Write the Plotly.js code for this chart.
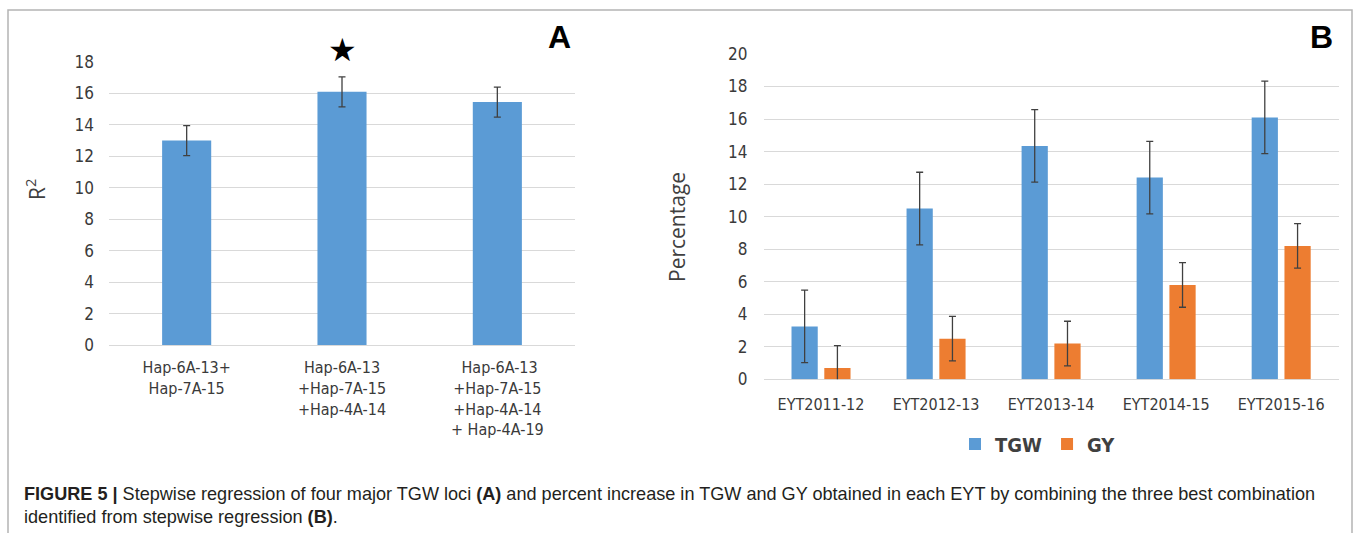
<!DOCTYPE html>
<html>
<head>
<meta charset="utf-8">
<script src="https://cdn.plot.ly/plotly-3.0.1.min.js"></script>
<style>html,body{margin:0;padding:0;background:#fff;}#chart{width:1357px;height:533px;}</style>
</head>
<body>
<div id="chart"></div>
<script>
// Panel A data
const aCategories = ['Hap-6A-13+<br>Hap-7A-15', 'Hap-6A-13<br>+Hap-7A-15<br>+Hap-4A-14', ' Hap-6A-13<br>+Hap-7A-15<br>+Hap-4A-14<br>+ Hap-4A-19'];
const aR2 = [13.0, 16.1, 15.45];
const aErr = [0.95, 0.95, 0.95];
const starCategory = aCategories[1];

// Panel B data
const bCategories = ['EYT2011-12', 'EYT2012-13', 'EYT2013-14', 'EYT2014-15', 'EYT2015-16'];
const tgw = [3.25, 10.5, 14.35, 12.4, 16.1];
const tgwErr = [2.23, 2.23, 2.23, 2.23, 2.23];
const gy = [0.7, 2.5, 2.2, 5.8, 8.2];
const gyErr = [1.37, 1.37, 1.37, 1.37, 1.37];

const W = 1357, H = 533;
const px = v => v / W;
const py = v => 1 - v / H;

const condFam = '"DejaVu Sans Condensed", "Liberation Sans Narrow", sans-serif';
const tickFont = {family: condFam, size: 16, color: '#3a3a3a'};
const errStyle = {type: 'data', visible: true, thickness: 1.3, width: 3.5, color: '#404040'};

const traces = [
  {type: 'bar', x: aCategories, y: aR2, xaxis: 'x', yaxis: 'y', width: 0.316,
   marker: {color: '#5b9bd5'}, error_y: Object.assign({array: aErr}, errStyle),
   showlegend: false, hoverinfo: 'skip'},
  {type: 'bar', name: 'TGW', x: bCategories, y: tgw, xaxis: 'x2', yaxis: 'y2',
   marker: {color: '#5b9bd5'}, error_y: Object.assign({array: tgwErr}, errStyle), hoverinfo: 'skip'},
  {type: 'bar', name: 'GY', x: bCategories, y: gy, xaxis: 'x2', yaxis: 'y2',
   marker: {color: '#ed7d31'}, error_y: Object.assign({array: gyErr}, errStyle), hoverinfo: 'skip'}
];

const gridCol = '#d9d9d9';
const layout = {
  width: W, height: H,
  margin: {l: 0, r: 0, t: 0, b: 0},
  paper_bgcolor: '#fff', plot_bgcolor: '#fff',
  barmode: 'group', bargap: 0.43, bargroupgap: 0.2,
  xaxis: {domain: [px(109), px(575)], anchor: 'y', type: 'category', showgrid: false,
          showline: false, ticks: '', tickfont: Object.assign({}, tickFont, {size: 16}), ticklabelstandoff: 11},
  yaxis: {domain: [py(345), py(62)], anchor: 'x', range: [0, 18], dtick: 2, showgrid: true,
          gridcolor: gridCol, gridwidth: 1, zeroline: true, zerolinecolor: gridCol, zerolinewidth: 1,
          showline: false, ticks: '', tickfont: Object.assign({}, tickFont, {size: 17}), ticklabelstandoff: 14},
  xaxis2: {domain: [px(763.5), px(1338.7)], anchor: 'y2', type: 'category', showgrid: false,
           showline: false, ticks: '', tickfont: tickFont, ticklabelstandoff: 14},
  yaxis2: {domain: [py(379.3), py(54)], anchor: 'x2', range: [0, 20], dtick: 2, showgrid: true,
           gridcolor: gridCol, gridwidth: 1, zeroline: true, zerolinecolor: gridCol, zerolinewidth: 1,
           showline: false, ticks: '', tickfont: Object.assign({}, tickFont, {size: 17}), ticklabelstandoff: 15},
  showlegend: true,
  legend: {orientation: 'h', x: px(1038), xanchor: 'center', y: py(444), yanchor: 'middle',
           font: {family: condFam, size: 20, color: '#404040', weight: 'bold'},
           bgcolor: 'rgba(0,0,0,0)', itemclick: false, itemdoubleclick: false},
  shapes: [
    {type: 'path', xref: 'paper', yref: 'paper',
     path: 'M ' + px(8) + ' ' + (-0.02) + ' L ' + px(8) + ' ' + py(10) + ' L ' + px(1352) + ' ' + py(10) + ' L ' + px(1352) + ' ' + (-0.02),
     line: {color: '#b4b4b4', width: 1.5}}
  ],
  annotations: [
    {text: '★', xref: 'x', yref: 'paper', x: starCategory, y: py(50), xanchor: 'center', yanchor: 'middle',
     showarrow: false, font: {family: '"DejaVu Sans", sans-serif', size: 32, color: '#000'}},
    {text: '<b>A</b>', xref: 'paper', yref: 'paper', x: px(559), y: py(37), xanchor: 'center', yanchor: 'middle',
     showarrow: false, font: {family: 'Liberation Sans, Arial, sans-serif', size: 32, color: '#000'}},
    {text: '<b>B</b>', xref: 'paper', yref: 'paper', x: px(1321), y: py(37), xanchor: 'center', yanchor: 'middle',
     showarrow: false, font: {family: 'Liberation Sans, Arial, sans-serif', size: 32, color: '#000'}},
    {text: 'R<sup>2</sup>', xref: 'paper', yref: 'paper', x: px(35), y: py(190), xanchor: 'center', yanchor: 'middle',
     textangle: -90, showarrow: false, font: {family: '"Open Sans", sans-serif', size: 21, color: '#404040'}},
    {text: 'Percentage', xref: 'paper', yref: 'paper', x: px(677), y: py(227), xanchor: 'center', yanchor: 'middle',
     textangle: -90, showarrow: false, font: {family: '"Open Sans", sans-serif', size: 21, color: '#404040'}},
    {text: '<b>FIGURE 5 |</b> Stepwise regression of four major TGW loci <b>(A)</b> and percent increase in TGW and GY obtained in each EYT by combining the three best combination',
     xref: 'paper', yref: 'paper', x: px(22), y: py(494), xanchor: 'left', yanchor: 'middle',
     showarrow: false, font: {family: 'Liberation Sans, Arial, sans-serif', size: 18.1, color: '#231f20'}},
    {text: 'identified from stepwise regression <b>(B)</b>.',
     xref: 'paper', yref: 'paper', x: px(22), y: py(517), xanchor: 'left', yanchor: 'middle',
     showarrow: false, font: {family: 'Liberation Sans, Arial, sans-serif', size: 18.1, color: '#231f20'}}
  ]
};

Plotly.newPlot('chart', traces, layout, {staticPlot: true, displayModeBar: false});
</script>
</body>
</html>
